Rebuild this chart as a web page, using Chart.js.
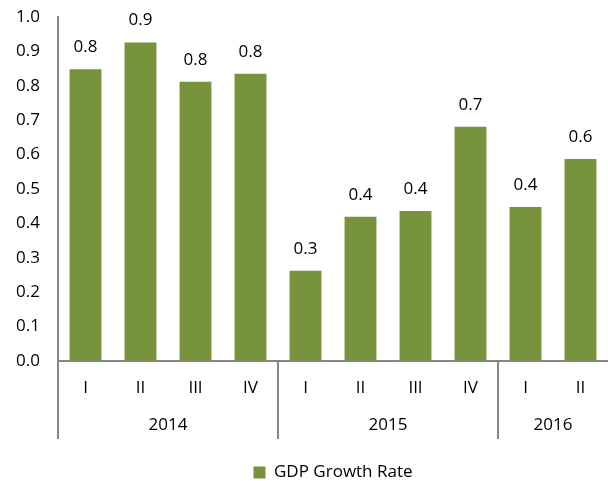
<!DOCTYPE html>
<html>
<head>
<meta charset="utf-8">
<script src="https://cdn.jsdelivr.net/npm/chart.js@4.4.0/dist/chart.umd.min.js"></script>
<style>
  html, body { margin: 0; padding: 0; background: #fff; }
</style>
</head>
<body>
<canvas id="myChart" width="608" height="481"></canvas>
<script>
// data
const quarters = ['I', 'II', 'III', 'IV', 'I', 'II', 'III', 'IV', 'I', 'II'];
const years = ['2014', '2015', '2016'];
const quartersPerYear = [4, 4, 2];
const growth = [0.848, 0.926, 0.812, 0.835, 0.262, 0.419, 0.436, 0.681, 0.448, 0.587];
const yTicks = [0, 0.1, 0.2, 0.3, 0.4, 0.5, 0.6, 0.7, 0.8, 0.9, 1.0];
const seriesName = 'GDP Growth Rate';

const FONT = '"Open Sans", Lato, sans-serif';
const AXIS = '#868686';

// year row under the quarters + value labels over the bars
const groupAxis = {
    id: 'groupAxis',
    afterDatasetsDraw: function (chart) {
        const ctx = chart.ctx;
        const x = chart.scales.x;
        const area = chart.chartArea;
        const lineBottom = area.bottom + 78;
        const half = (x.getPixelForValue(1) - x.getPixelForValue(0)) / 2;

        ctx.save();
        ctx.strokeStyle = AXIS;
        ctx.lineWidth = 2;
        ctx.fillStyle = '#000';
        ctx.font = '17px ' + FONT;
        ctx.textAlign = 'center';
        ctx.textBaseline = 'middle';

        let start = 0;
        quartersPerYear.forEach(function (n, g) {
            const end = start + n - 1;
            const left = x.getPixelForValue(start) - half;
            const right = Math.min(x.getPixelForValue(end) + half, area.right);
            ctx.beginPath();
            ctx.moveTo(Math.round(left), area.bottom);
            ctx.lineTo(Math.round(left), lineBottom);
            ctx.stroke();
            ctx.fillText(years[g], (left + right) / 2, area.bottom + 64);
            start += n;
        });

        // value labels
        const meta = chart.getDatasetMeta(0);
        meta.data.forEach(function (bar, i) {
            ctx.fillText(growth[i].toFixed(1), bar.x, bar.y - 22);
        });
        ctx.restore();
    }
};

new Chart(document.getElementById('myChart'), {
    type: 'bar',
    data: {
        labels: quarters,
        datasets: [{
            label: seriesName,
            data: growth,
            backgroundColor: '#77933C',
            borderWidth: 0,
            categoryPercentage: 1,
            barPercentage: 0.58
        }]
    },
    options: {
        responsive: false,
        animation: false,
        layout: { padding: { top: 17, right: 0, bottom: -10, left: 0 } },
        plugins: {
            tooltip: { enabled: false },
            legend: {
                position: 'bottom',
                fullSize: false,
                labels: {
                    boxWidth: 12,
                    boxHeight: 12,
                    padding: 1,
                    color: '#000',
                    font: { family: FONT, size: 17 }
                }
            }
        },
        scales: {
            x: {
                grid: { display: false, drawTicks: false },
                border: { color: AXIS, width: 2 },
                ticks: {
                    color: '#000',
                    padding: 17,
                    font: { family: FONT, size: 17 }
                },
                afterFit: function (scale) { scale.height = 102; }
            },
            y: {
                min: 0,
                max: 1,
                // invisible tick marks keep the labels off the axis without padding the top
                grid: { display: true, drawOnChartArea: false, drawTicks: true, tickLength: 18, color: 'rgba(0,0,0,0)' },
                border: { color: AXIS, width: 2 },
                afterBuildTicks: function (scale) {
                    scale.ticks = yTicks.map(function (v) { return { value: v }; });
                },
                ticks: {
                    color: '#000',
                    padding: 0,
                    font: { family: FONT, size: 17 },
                    callback: function (v) { return Number(v).toFixed(1); }
                },
                afterFit: function (scale) { scale.width = 58; }
            }
        }
    },
    plugins: [groupAxis]
});
</script>
</body>
</html>
